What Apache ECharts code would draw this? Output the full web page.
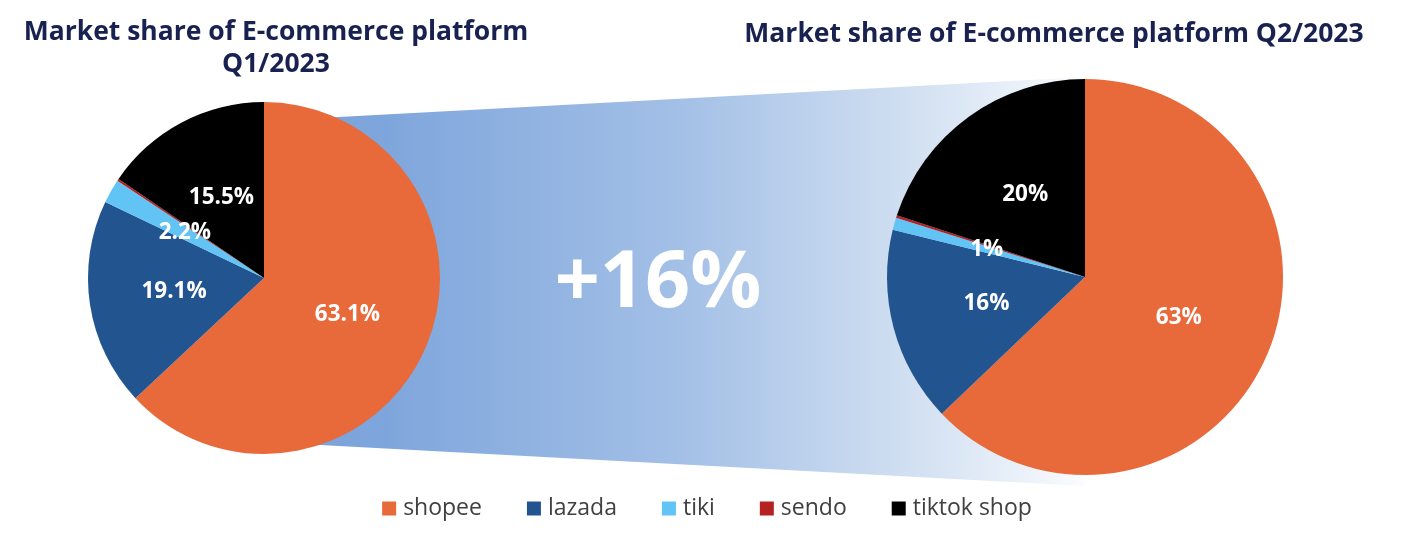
<!DOCTYPE html>
<html>
<head>
<meta charset="utf-8">
<script src="https://cdn.jsdelivr.net/npm/echarts@6/dist/echarts.min.js"></script>
<style>
html,body{margin:0;padding:0;background:#fff;}
#main{width:1414px;height:554px;}
</style>
</head>
<body>
<div id="main"></div>
<script>
var platforms = ['shopee', 'lazada', 'tiki', 'sendo', 'tiktok shop'];
var shareQ1 = [63.1, 19.1, 2.2, 0.2, 15.5];
var shareQ2 = [63, 16, 1, 0.2, 20];
var colors = ['#E8693A', '#22558F', '#62C3F5', '#B42222', '#000000'];
var titleQ1 = 'Market share of E-commerce platform\nQ1/2023';
var titleQ2 = 'Market share of E-commerce platform Q2/2023';
var growthLabel = '+16%';

var FONT = '"Open Sans", "Noto Sans", sans-serif';
var L = {cx: 264, cy: 278, r: 176};
var R = {cx: 1085, cy: 277, r: 198};

function buildData(values) {
  return platforms.map(function (name, i) {
    var item = {name: name, value: values[i]};
    if (values[i] < 0.5) item.label = {show: false};
    return item;
  });
}

function pieSeries(values, c) {
  return {
    type: 'pie',
    center: [c.cx, c.cy],
    radius: [0, c.r],
    startAngle: 90,
    clockwise: true,
    avoidLabelOverlap: false,
    silent: true,
    z: 3,
    itemStyle: {borderWidth: 0},
    label: {
      show: true,
      position: 'inside',
      formatter: function (p) { return p.value + '%'; },
      color: '#fff',
      fontFamily: FONT,
      fontWeight: 'bold',
      fontSize: 22.5,
      textBorderWidth: 0
    },
    labelLine: {show: false},
    emphasis: {disabled: true},
    data: buildData(values)
  };
}

// band geometry derived from pie layout
var bandTopL = L.cy - 157, bandBotL = L.cy + 164;
var bandTopR = R.cy - 200, bandBotR = R.cy + 209;

var chart = echarts.init(document.getElementById('main'), null, {renderer: 'canvas'});
chart.setOption({
  backgroundColor: '#fff',
  color: colors,
  animation: false,
  title: [
    {
      text: titleQ1,
      left: 271, top: 11, textAlign: 'center',
      textStyle: {fontFamily: FONT, fontWeight: 'bold', fontSize: 26.5, color: '#18214f', lineHeight: 32}
    },
    {
      text: titleQ2,
      left: 1049, top: 13, textAlign: 'center',
      textStyle: {fontFamily: FONT, fontWeight: 'bold', fontSize: 26.5, color: '#18214f', lineHeight: 32}
    }
  ],
  legend: {
    data: platforms,
    left: 'center',
    top: 492,
    icon: 'rect',
    itemWidth: 14,
    itemHeight: 14,
    itemGap: 45,
    selectedMode: false,
    textStyle: {fontFamily: FONT, fontSize: 23, color: '#404040', padding: [0, 0, 0, 2]}
  },
  graphic: [
    {
      type: 'polygon',
      z: 0,
      silent: true,
      shape: {points: [[L.cx, bandTopL], [R.cx, bandTopR], [R.cx, bandBotR], [L.cx, bandBotL]]},
      style: {
        fill: {
          type: 'linear', x: 0, y: 0, x2: 1, y2: 0,
          colorStops: [
            {offset: 0, color: '#78a0da'},
            {offset: 0.15, color: '#7fa6dc'},
            {offset: 0.5, color: '#a2bfe6'},
            {offset: 0.8, color: '#d3e1f2'},
            {offset: 0.9, color: '#e6eef8'},
            {offset: 1, color: '#fbfcfe'}
          ]
        }
      }
    },
    {
      type: 'text',
      z: 10,
      silent: true,
      x: 658, y: 284,
      style: {
        text: growthLabel,
        fill: '#fff',
        font: 'bold 79px ' + FONT,
        textAlign: 'center',
        textVerticalAlign: 'middle'
      }
    }
  ],
  series: [pieSeries(shareQ1, L), pieSeries(shareQ2, R)]
});
</script>
</body>
</html>
